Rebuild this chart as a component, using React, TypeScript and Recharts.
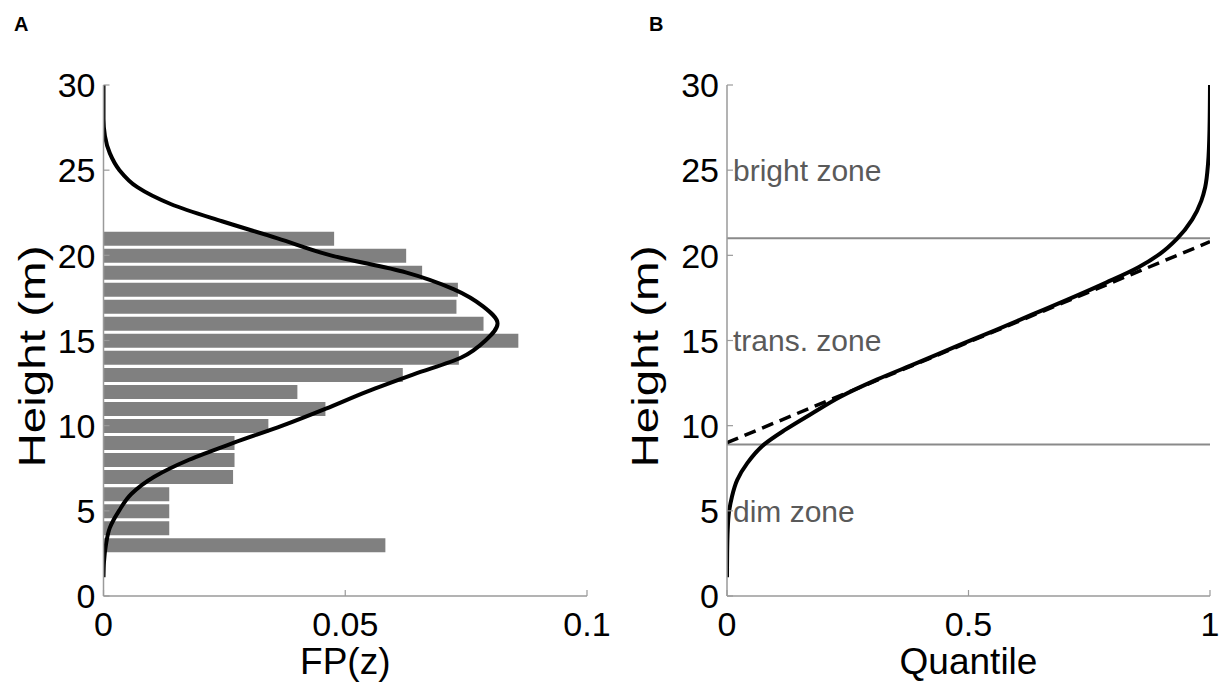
import React from 'react';
import { ComposedChart, Bar, Line, XAxis, YAxis, ReferenceLine, ReferenceDot } from 'recharts';

// ---------- data ----------
const barHeights = [3, 4, 5, 6, 7, 8, 9, 10, 11, 12, 13, 14, 15, 16, 17, 18, 19, 20, 21];
const barValues = [0.0583, 0.0136, 0.0136, 0.0136, 0.0268, 0.0271, 0.0271, 0.0341, 0.0459, 0.0401, 0.0619, 0.0735, 0.0858, 0.0786, 0.073, 0.0733, 0.0659, 0.0626, 0.0477];

const fpHeights = [1.1, 2, 3, 4, 5, 6, 7, 8, 9, 10, 11, 12, 13, 14, 15, 16, 17, 18, 19, 20, 21, 22, 23, 24, 25, 26, 27, 28, 29, 30];
const fpValues = [0, 0.0001, 0.0005, 0.0013, 0.0032, 0.0058, 0.0105, 0.0177, 0.027, 0.037, 0.046, 0.0545, 0.064, 0.074, 0.079, 0.0815, 0.0785, 0.0725, 0.0625, 0.047, 0.036, 0.0245, 0.014, 0.007, 0.0033, 0.0013, 0.0003, 0, 0, 0];

const qHeights = [1.1, 2.5, 3.9, 4.9, 5.8, 6.8, 7.8, 8.9, 9.75, 10.7, 11.7, 12.7, 13.7, 14.7, 15.6, 16.5, 17.4, 18.4, 19.3, 20.1, 20.95, 22.1, 23.2, 24.0, 25.4, 27.4, 30];
const qValues = [0, 0.0003, 0.0015, 0.004, 0.01, 0.021, 0.042, 0.077, 0.12, 0.175, 0.235, 0.31, 0.395, 0.478, 0.555, 0.63, 0.705, 0.785, 0.852, 0.897, 0.931, 0.963, 0.982, 0.99, 0.996, 0.999, 1.0];

const fitHeights = [9.0, 20.8];
const fitValues = [0, 1];

const zoneBounds = [8.9, 21];
const zoneLabels = ['bright zone', 'trans. zone', 'dim zone'];
const zoneLabelHeights = [25, 15, 5];

const yTicks = [0, 5, 10, 15, 20, 25, 30];
const xTicksA = [0, 0.05, 0.1];
const xTicksB = [0, 0.5, 1];

// ---------- derived tables ----------
const barRows = barHeights.map((h, i) => ({ h, v: barValues[i] }));
const fpRows = fpHeights.map((h, i) => ({ h, v: fpValues[i] }));
const qRows = qHeights.map((h, i) => ({ h, q: qValues[i] }));
const fitRows = fitHeights.map((h, i) => ({ h, q: fitValues[i] }));

const FONT = '"Liberation Sans", Arial, Helvetica, sans-serif';
const FRAME = '#9a9a9a';
const AXIS = { stroke: FRAME, strokeWidth: 1.5 };
const TICK_FS = 34;
const LABEL_FS = 37;

const LeftTick = (props: any) => {
  const { x, y, payload } = props;
  return (
    <g>
      <line x1={x} x2={x + 6} y1={y} y2={y} stroke={FRAME} strokeWidth={1.2} />
      <text x={x - 8} y={y} dy="0.36em" textAnchor="end" fontSize={TICK_FS} fontFamily={FONT} fill="#000">
        {payload.value}
      </text>
    </g>
  );
};
const RightTick = (props: any) => {
  const { x, y } = props;
  return <line x1={x} x2={x - 6} y1={y} y2={y} stroke={FRAME} strokeWidth={1.2} />;
};
const BottomTick = (props: any) => {
  const { x, y, payload } = props;
  return (
    <g>
      <line x1={x} x2={x} y1={y} y2={y - 6} stroke={FRAME} strokeWidth={1.2} />
      <text x={x} y={y + 40} textAnchor="middle" fontSize={TICK_FS} fontFamily={FONT} fill="#000">
        {payload.value}
      </text>
    </g>
  );
};
const TopTick = (props: any) => {
  const { x, y } = props;
  return <line x1={x} x2={x} y1={y} y2={y + 6} stroke={FRAME} strokeWidth={1.2} />;
};

const xLabel = (text: string) => (p: any) => {
  const vb = p.viewBox || {};
  return (
    <text x={vb.x + vb.width / 2} y={vb.y + 78} textAnchor="middle" fontSize={LABEL_FS} fontFamily={FONT} fill="#000">
      {text}
    </text>
  );
};
const yLabel = (text: string, dx: number) => (p: any) => {
  const vb = p.viewBox || {};
  const cx = vb.x + dx;
  const cy = vb.y + vb.height / 2 + 16;
  return (
    <text
      x={cx}
      y={cy}
      transform={`rotate(-90 ${cx} ${cy})`}
      textAnchor="middle"
      dominantBaseline="central"
      fontSize={LABEL_FS}
      fontFamily={FONT}
      fill="#000"
      textLength={222}
      lengthAdjust="spacingAndGlyphs"
    >
      {text}
    </text>
  );
};

const zoneText = (text: string) => (p: any) => {
  const vb = p.viewBox || {};
  return (
    <text x={vb.x + 6} y={vb.y} dy="0.36em" fontSize={30} fontFamily={FONT} fill="#5a5a5a">
      {text}
    </text>
  );
};

const PanelA = () => (
  <ComposedChart width={610} height={683} layout="vertical" data={barRows} margin={{ top: 85, right: 23, bottom: 0, left: 0 }}>
    <XAxis
      type="number"
      domain={[0, 0.1]}
      ticks={xTicksA}
      interval={0}
      allowDataOverflow
      height={87}
      tickSize={0}
      tickMargin={0}
      axisLine={AXIS}
      tickLine={false}
      tick={<BottomTick />}
      label={{ content: xLabel('FP(z)') }}
    />
    <XAxis xAxisId="top" orientation="top" type="number" domain={[0, 0.1]} ticks={xTicksA} interval={0} height={0} tickSize={0} tickMargin={0} axisLine={AXIS} tickLine={false} tick={<TopTick />} />
    <YAxis
      type="number"
      dataKey="h"
      domain={[0, 30]}
      reversed
      ticks={yTicks}
      interval={0}
      allowDataOverflow
      width={103.5}
      tickSize={0}
      tickMargin={0}
      axisLine={AXIS}
      tickLine={false}
      tick={<LeftTick />}
      label={{ content: yLabel('Height (m)', 32) }}
    />
    <YAxis yAxisId="r" orientation="right" type="number" domain={[0, 30]} reversed ticks={yTicks} interval={0} width={0} tickSize={0} tickMargin={0} axisLine={AXIS} tickLine={false} tick={<RightTick />} />
    <Bar dataKey="v" fill="#808080" barSize={14} isAnimationActive={false} />
    <Line data={fpRows} dataKey="v" type="monotone" stroke="#000" strokeWidth={4} dot={false} isAnimationActive={false} />
  </ComposedChart>
);

const PanelB = () => (
  <ComposedChart width={610} height={683} layout="vertical" data={qRows} margin={{ top: 85, right: 10, bottom: 0, left: 0 }}>
    <XAxis
      type="number"
      domain={[0, 1]}
      ticks={xTicksB}
      interval={0}
      allowDataOverflow
      height={87}
      tickSize={0}
      tickMargin={0}
      axisLine={AXIS}
      tickLine={false}
      tick={<BottomTick />}
      label={{ content: xLabel('Quantile') }}
    />
    <XAxis xAxisId="top" orientation="top" type="number" domain={[0, 1]} ticks={xTicksB} interval={0} height={0} tickSize={0} tickMargin={0} axisLine={AXIS} tickLine={false} tick={<TopTick />} />
    <YAxis
      type="number"
      dataKey="h"
      domain={[0, 30]}
      reversed
      ticks={yTicks}
      interval={0}
      allowDataOverflow
      width={117}
      tickSize={0}
      tickMargin={0}
      axisLine={AXIS}
      tickLine={false}
      tick={<LeftTick />}
      label={{ content: yLabel('Height (m)', 35) }}
    />
    <YAxis yAxisId="r" orientation="right" type="number" domain={[0, 30]} reversed ticks={yTicks} interval={0} width={0} tickSize={0} tickMargin={0} axisLine={AXIS} tickLine={false} tick={<RightTick />} />
    {zoneBounds.map((b) => (
      <ReferenceLine key={b} y={b} stroke="#8a8a8a" strokeWidth={2} />
    ))}
    {zoneLabels.map((t, i) => (
      <ReferenceDot key={t} x={0} y={zoneLabelHeights[i]} r={0} fill="none" stroke="none" label={{ content: zoneText(t) }} />
    ))}
    <Line data={fitRows} dataKey="q" type="linear" stroke="#000" strokeWidth={3.5} strokeDasharray="12 7" dot={false} isAnimationActive={false} />
    <Line data={qRows} dataKey="q" type="monotone" stroke="#000" strokeWidth={4} dot={false} isAnimationActive={false} />
  </ComposedChart>
);

export default function App() {
  return (
    <div style={{ position: 'absolute', left: 0, top: 0, width: 1220, height: 683, background: '#fff', fontFamily: FONT }}>
      <div style={{ position: 'absolute', left: 0, top: 0 }}>
        <PanelA />
      </div>
      <div style={{ position: 'absolute', left: 610, top: 0 }}>
        <PanelB />
      </div>
      <div style={{ position: 'absolute', left: 14, top: 14, fontSize: 20, fontWeight: 700, lineHeight: 1 }}>A</div>
      <div style={{ position: 'absolute', left: 649, top: 14, fontSize: 20, fontWeight: 700, lineHeight: 1 }}>B</div>
    </div>
  );
}
